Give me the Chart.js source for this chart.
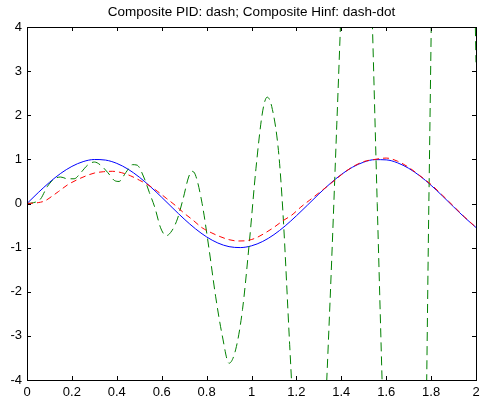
<!DOCTYPE html>
<html>
<head>
<meta charset="utf-8">
<title>Composite PID / Hinf</title>
<script src="https://cdn.jsdelivr.net/npm/chart.js@4.4.1/dist/chart.umd.min.js"></script>
<style>
  body { margin: 0; background: #fff; }
  canvas { display: block; }
</style>
</head>
<body>
<canvas id="chart" width="488" height="403"></canvas>
<script>
// dados
const chartTitle = 'Composite PID: dash; Composite Hinf: dash-dot';

const xTickLabels = ['0', '0.2', '0.4', '0.6', '0.8', '1', '1.2', '1.4', '1.6', '1.8', '2'];
const yTickLabels = ['-4', '-3', '-2', '-1', '0', '1', '2', '3', '4'];

// referência (azul, contínua)
const refX = [0, 0.05, 0.1, 0.15, 0.2, 0.25, 0.3, 0.35, 0.4, 0.45, 0.5, 0.55, 0.6, 0.65, 0.7, 0.75, 0.8,
  0.85, 0.9, 0.95, 1.0, 1.05, 1.1, 1.15, 1.2, 1.25, 1.3, 1.35, 1.4, 1.45, 1.5, 1.55, 1.6, 1.65, 1.7,
  1.75, 1.8, 1.85, 1.9, 1.95, 2.0];
const refY = [0, 0.247, 0.479, 0.682, 0.841, 0.949, 0.997, 0.984, 0.909, 0.778, 0.598, 0.381, 0.141,
  -0.108, -0.351, -0.572, -0.757, -0.895, -0.978, -0.999, -0.959, -0.860, -0.706, -0.508, -0.279,
  -0.033, 0.215, 0.450, 0.657, 0.823, 0.938, 0.994, 0.989, 0.923, 0.798, 0.625, 0.412, 0.174,
  -0.075, -0.319, -0.544];

// PID composto (vermelho, tracejado)
const pidX = [0, 0.05, 0.08, 0.11, 0.14, 0.18, 0.22, 0.26, 0.3, 0.34, 0.38, 0.42, 0.46, 0.5, 0.54, 0.58,
  0.62, 0.66, 0.7, 0.74, 0.78, 0.82, 0.86, 0.9, 0.94, 0.98, 1.02, 1.06, 1.1, 1.14, 1.18, 1.22, 1.26,
  1.3, 1.35, 1.4, 1.45, 1.5, 1.55, 1.6, 1.65, 1.7, 1.75, 1.8, 1.85, 1.9, 1.95, 2.0];
const pidY = [0, 0.02, 0.06, 0.16, 0.27, 0.42, 0.53, 0.62, 0.69, 0.72, 0.73, 0.7, 0.63, 0.53, 0.42, 0.28,
  0.12, -0.04, -0.22, -0.38, -0.55, -0.66, -0.75, -0.82, -0.85, -0.84, -0.78, -0.67, -0.54, -0.39,
  -0.26, -0.08, 0.08, 0.24, 0.44, 0.65, 0.83, 0.95, 1.0, 1.03, 0.96, 0.82, 0.63, 0.43, 0.19, -0.06,
  -0.31, -0.54];

// Hinf composto (verde, tracejado)
const hinfX = [0, 0.03, 0.06, 0.09, 0.12, 0.15, 0.18, 0.21, 0.24, 0.27, 0.3, 0.33, 0.36, 0.39, 0.41,
  0.44, 0.47, 0.49, 0.52, 0.545, 0.57, 0.595, 0.62, 0.645, 0.67, 0.695, 0.72, 0.735, 0.75, 0.78, 0.81,
  0.84, 0.87, 0.9, 0.93, 0.96, 0.99, 1.02, 1.05, 1.07, 1.09, 1.12, 1.14, 1.17, 1.2, 1.23, 1.26, 1.29,
  1.32, 1.35, 1.38, 1.41, 1.44, 1.47, 1.5, 1.53, 1.56, 1.59, 1.62, 1.65, 1.68, 1.71, 1.74, 1.77, 1.79,
  1.81, 1.84, 1.87, 1.9, 1.93, 1.96, 1.99, 2.0];
const hinfY = [0, 0.02, 0.1, 0.38, 0.55, 0.6, 0.56, 0.56, 0.7, 0.87, 0.94, 0.86, 0.7, 0.52, 0.5,
  0.7, 0.88, 0.87, 0.6, 0.25, -0.1, -0.55, -0.73, -0.62, -0.35, 0.1, 0.6, 0.73, 0.65, 0.0, -1.0,
  -2.1, -3.0, -3.62, -3.3, -2.4, -0.9, 0.8, 2.1, 2.41, 2.2, 1.2, -0.2, -3.2, -6.0, -7.8, -8.3, -7.5,
  -5.6, -2.2, 1.8, 5.8, 9.0, 10.5, 9.5, 5.5, 0.0, -5.5, -10.5, -14.0, -15.0, -13.5, -9.0, -7.3, 0.0,
  7.3, 15.0, 20.0, 22.0, 20.0, 14.0, 6.0, 3.2];

function toPoints(xs, ys) {
  return xs.map((x, i) => ({ x: x, y: ys[i] }));
}

const FONT = '"Liberation Sans", Arial, sans-serif';

// moldura + marcas internas estilo MATLAB + título
const matlabFrame = {
  id: 'matlabFrame',
  afterDraw(chart) {
    const ctx = chart.ctx;
    const a = chart.chartArea;
    const xs = chart.scales.x;
    const ys = chart.scales.y;
    const tl = 4;
    ctx.save();
    ctx.strokeStyle = '#000';
    ctx.lineWidth = 1;
    ctx.beginPath();
    xs.ticks.forEach(t => {
      const px = Math.round(xs.getPixelForValue(t.value)) + 0.5;
      ctx.moveTo(px, a.bottom); ctx.lineTo(px, a.bottom - tl);
      ctx.moveTo(px, a.top); ctx.lineTo(px, a.top + tl);
    });
    ys.ticks.forEach(t => {
      const py = Math.round(ys.getPixelForValue(t.value)) + 0.5;
      ctx.moveTo(a.left, py); ctx.lineTo(a.left + tl, py);
      ctx.moveTo(a.right, py); ctx.lineTo(a.right - tl, py);
    });
    ctx.stroke();
    ctx.strokeRect(Math.round(a.left) + 0.5, Math.round(a.top) + 0.5,
      Math.round(a.right - a.left), Math.round(a.bottom - a.top));

    ctx.fillStyle = '#000';
    ctx.font = '13.5px ' + FONT;
    ctx.textAlign = 'center';
    ctx.textBaseline = 'middle';
    ctx.fillText(chartTitle, (a.left + a.right) / 2, 12);
    ctx.restore();
  }
};

new Chart(document.getElementById('chart').getContext('2d'), {
  type: 'line',
  data: {
    datasets: [
      {
        label: 'Composite PID',
        data: toPoints(pidX, pidY),
        borderColor: '#ff0000',
        borderWidth: 1,
        borderDash: [6, 4],
        pointRadius: 0,
        cubicInterpolationMode: 'monotone',
        fill: false
      },
      {
        label: 'Composite Hinf',
        data: toPoints(hinfX, hinfY),
        borderColor: '#008000',
        borderWidth: 1,
        borderDash: [9, 5],
        pointRadius: 0,
        cubicInterpolationMode: 'monotone',
        fill: false
      },
      {
        label: 'Reference',
        data: toPoints(refX, refY),
        borderColor: '#0000ff',
        borderWidth: 1,
        pointRadius: 0,
        cubicInterpolationMode: 'monotone',
        fill: false
      }
    ]
  },
  options: {
    responsive: false,
    animation: false,
    layout: { padding: { top: 27, right: 12, left: 0, bottom: 0 } },
    plugins: {
      legend: { display: false },
      title: { display: false },
      tooltip: { enabled: false }
    },
    scales: {
      x: {
        type: 'linear',
        min: 0,
        max: 2,
        grid: { display: false, drawTicks: false },
        border: { display: false },
        afterFit: s => { s.height = 23; },
        ticks: {
          stepSize: 0.2,
          maxRotation: 0,
          autoSkip: false,
          padding: 5,
          color: '#000',
          font: { family: FONT, size: 13 },
          callback: (v, i) => xTickLabels[i]
        }
      },
      y: {
        min: -4,
        max: 4,
        grid: { display: false, drawTicks: false },
        border: { display: false },
        afterFit: s => { s.width = 27; },
        ticks: {
          stepSize: 1,
          padding: 5,
          color: '#000',
          font: { family: FONT, size: 13 },
          callback: (v, i) => yTickLabels[i]
        }
      }
    }
  },
  plugins: [matlabFrame]
});
</script>
</body>
</html>
